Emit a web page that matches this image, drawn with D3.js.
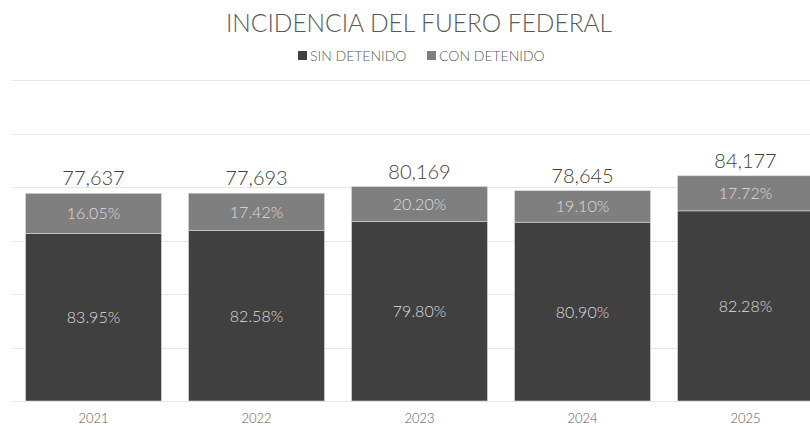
<!DOCTYPE html>
<html>
<head>
<meta charset="utf-8">
<title>Incidencia del fuero federal</title>
<script src="https://cdnjs.cloudflare.com/ajax/libs/d3/7.8.5/d3.min.js"></script>
<style>
  body { margin: 0; background: #fff; }
  text { font-family: Lato, "Open Sans", sans-serif; font-weight: 300; }
</style>
</head>
<body>
<div id="chart"></div>
<script>
var years = ["2021", "2022", "2023", "2024", "2025"];
var totals = [77637, 77693, 80169, 78645, 84177];
// segment heights as drawn in the picture
var sinVals = [62680, 63700, 67070, 66850, 71080];
var conVals = [14960, 13990, 13100, 11800, 13100];
var sinPct = ["83.95%", "82.58%", "79.80%", "80.90%", "82.28%"];
var conPct = ["16.05%", "17.42%", "20.20%", "19.10%", "17.72%"];
var yTicks = [0, 20000, 40000, 60000, 80000, 100000, 120000];

var w = 810, h = 428;
var svg = d3.select("#chart").append("svg")
  .attr("width", w).attr("height", h);

var x = d3.scaleBand().domain(years).range([12, 827]).paddingInner(0.166).paddingOuter(0.083);
var y = d3.scaleLinear().domain([0, 120000]).range([401, 80]);

// gridlines
svg.selectAll("line.grid")
  .data(yTicks)
  .enter().append("line")
  .attr("class", "grid")
  .attr("x1", 12).attr("x2", w)
  .attr("y1", function(d) { return Math.round(y(d)) + 0.5; })
  .attr("y2", function(d) { return Math.round(y(d)) + 0.5; })
  .attr("stroke", "#e8e8e8").attr("stroke-width", 1);

var rows = years.map(function(yr, i) {
  return { year: yr, total: totals[i], sin: sinVals[i], con: conVals[i], sp: sinPct[i], cp: conPct[i] };
});

// sin detenido
svg.selectAll("rect.sin")
  .data(rows).enter().append("rect")
  .attr("x", function(d) { return x(d.year); })
  .attr("width", x.bandwidth())
  .attr("y", function(d) { return y(d.sin); })
  .attr("height", function(d) { return y(0) - y(d.sin); })
  .attr("fill", "#404040")
  .attr("stroke", "#d9d9d9").attr("stroke-width", 0.6);

// con detenido
svg.selectAll("rect.con")
  .data(rows).enter().append("rect")
  .attr("x", function(d) { return x(d.year); })
  .attr("width", x.bandwidth())
  .attr("y", function(d) { return y(d.sin + d.con); })
  .attr("height", function(d) { return y(d.sin) - y(d.sin + d.con); })
  .attr("fill", "#7f7f7f")
  .attr("stroke", "#d9d9d9").attr("stroke-width", 0.6);

// percentage labels
svg.selectAll("text.sp")
  .data(rows).enter().append("text")
  .attr("x", function(d) { return x(d.year) + x.bandwidth() / 2; })
  .attr("y", function(d) { return (y(0) + y(d.sin)) / 2 + 6; })
  .attr("text-anchor", "middle")
  .attr("font-size", 16).attr("fill", "#dedede")
  .text(function(d) { return d.sp; });

svg.selectAll("text.cp")
  .data(rows).enter().append("text")
  .attr("x", function(d) { return x(d.year) + x.bandwidth() / 2; })
  .attr("y", function(d) { return (y(d.sin) + y(d.sin + d.con)) / 2 + 6; })
  .attr("text-anchor", "middle")
  .attr("font-size", 16).attr("fill", "#dedede")
  .text(function(d) { return d.cp; });

// totals
svg.selectAll("text.tot")
  .data(rows).enter().append("text")
  .attr("x", function(d) { return x(d.year) + x.bandwidth() / 2; })
  .attr("y", function(d) { return y(d.sin + d.con) - 8; })
  .attr("text-anchor", "middle")
  .attr("font-size", 20).attr("fill", "#404040")
  .text(function(d) { return d3.format(",")(d.total); });

// x axis labels
svg.selectAll("text.yr")
  .data(years).enter().append("text")
  .attr("x", function(d) { return x(d) + x.bandwidth() / 2; })
  .attr("y", 423)
  .attr("text-anchor", "middle")
  .attr("font-size", 13).attr("fill", "#595959")
  .text(function(d) { return d; });

// title
svg.append("text")
  .attr("x", 419).attr("y", 32)
  .attr("text-anchor", "middle")
  .attr("font-size", 24.5).attr("fill", "#595959")
  .text("INCIDENCIA DEL FUERO FEDERAL");

// legend
var legend = [
  { name: "SIN DETENIDO", color: "#404040", x: 298 },
  { name: "CON DETENIDO", color: "#7f7f7f", x: 427 }
];
var lg = svg.selectAll("g.lg").data(legend).enter().append("g")
  .attr("transform", function(d) { return "translate(" + d.x + ",51)"; });
lg.append("rect").attr("width", 9).attr("height", 9).attr("fill", function(d) { return d.color; });
lg.append("text").attr("x", 12).attr("y", 9.5)
  .attr("font-size", 14).attr("fill", "#595959")
  .text(function(d) { return d.name; });
</script>
</body>
</html>
